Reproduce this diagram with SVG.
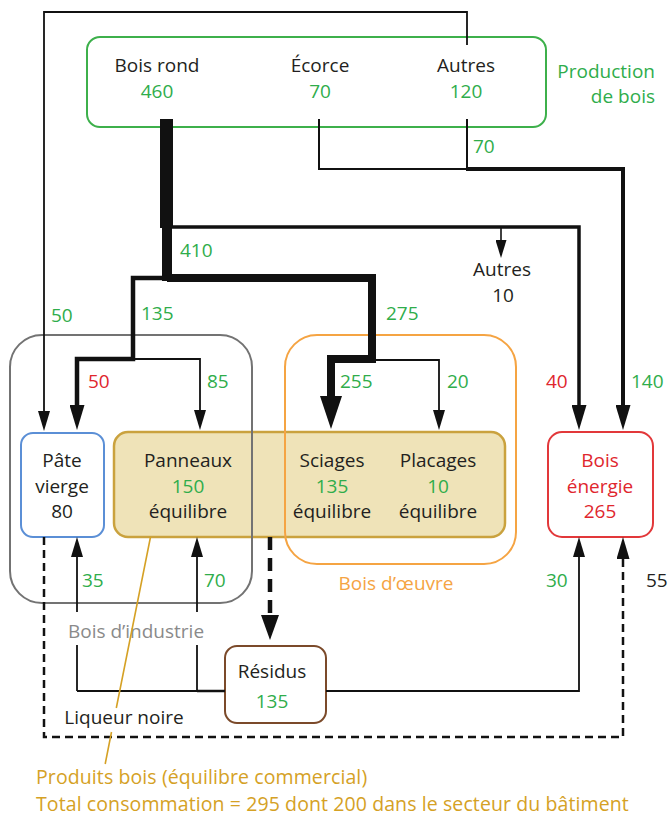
<svg xmlns="http://www.w3.org/2000/svg" width="669" height="817" viewBox="0 0 669 817">
<style>
text{font-family:"Open Sans","Liberation Sans",sans-serif;font-size:19px;fill:#231f20;text-anchor:middle}
.g{fill:#2fad4b}
.r{fill:#e0262d}
.k{fill:#231f20}
.st{text-anchor:start}
.en{text-anchor:end}
.gold{fill:#d5a125;font-size:19.5px;letter-spacing:0.1px}
.ln{fill:none;stroke:#111;stroke-linejoin:miter}
.thin{stroke-width:1.8}
.box{fill:#fff;stroke-width:2}
</style>
<defs>
<marker id="aThin" markerUnits="userSpaceOnUse" markerWidth="20" markerHeight="12" refX="0" refY="6" orient="auto"><path d="M0,0 L20,6 L0,12 z" fill="#111"/></marker>
<marker id="aSmall" markerUnits="userSpaceOnUse" markerWidth="18" markerHeight="11" refX="0" refY="5.5" orient="auto"><path d="M0,0 L18,5.5 L0,11 z" fill="#111"/></marker>
<marker id="aMid" markerUnits="userSpaceOnUse" markerWidth="25" markerHeight="15" refX="0" refY="7.5" orient="auto"><path d="M0,0 L25,7.5 L0,15 z" fill="#111"/></marker>
<marker id="aBig" markerUnits="userSpaceOnUse" markerWidth="33" markerHeight="22" refX="0" refY="11" orient="auto"><path d="M0,0 L33,11 L0,22 z" fill="#111"/></marker>
<marker id="aDash" markerUnits="userSpaceOnUse" markerWidth="25" markerHeight="18" refX="0" refY="9" orient="auto"><path d="M0,0 L25,9 L0,18 z" fill="#111"/></marker>
<marker id="aUp" markerUnits="userSpaceOnUse" markerWidth="22" markerHeight="13" refX="0" refY="6.5" orient="auto"><path d="M0,0 L22,6.5 L0,13 z" fill="#111"/></marker>
</defs>
<rect width="669" height="817" fill="#fff"/>

<g id="produits-bois">
<rect x="114" y="432" width="391" height="105" rx="14" fill="#efe3b8" stroke="#caa23e" stroke-width="2.5"/>
<text x="188" y="467">Panneaux</text>
<text x="188" y="493" class="g">150</text>
<text x="188" y="518">équilibre</text>
<text x="332" y="467">Sciages</text>
<text x="332" y="493" class="g">135</text>
<text x="332" y="518">équilibre</text>
<text x="438" y="467">Placages</text>
<text x="438" y="493" class="g">10</text>
<text x="438" y="518">équilibre</text>
<text x="36" y="784" class="st gold">Produits bois (équilibre commercial)</text>
<text x="36" y="811" class="st gold">Total consommation = 295 dont 200 dans le secteur du bâtiment</text>
</g>

<g id="bois-industrie">
<rect x="10" y="335" width="242" height="268" rx="32" fill="none" stroke="#737373" stroke-width="2"/>
<text x="136" y="638" style="fill:#8a8a8a">Bois d’industrie</text>
</g>

<g id="bois-oeuvre">
<rect x="285" y="335" width="231" height="229" rx="32" fill="none" stroke="#f5a443" stroke-width="2"/>
<text x="396" y="590" style="fill:#f5a443">Bois d’œuvre</text>
</g>

<g id="production">
<rect x="87" y="37" width="459" height="90" rx="13" class="box" stroke="#3db04b"/>
<text x="157" y="72">Bois rond</text>
<text x="157" y="98" class="g">460</text>
<text x="320" y="72">Écorce</text>
<text x="320" y="98" class="g">70</text>
<text x="466" y="72">Autres</text>
<text x="466" y="98" class="g">120</text>
<text x="655" y="78" class="g en">Production</text>
<text x="655" y="103" class="g en">de bois</text>
</g>

<g id="pate-vierge">
<rect x="21" y="433" width="83" height="104" rx="12" class="box" stroke="#5b8fd6"/>
<text x="62" y="467">Pâte</text>
<text x="62" y="493">vierge</text>
<text x="62" y="518">80</text>
</g>

<g id="bois-energie">
<rect x="548" y="432" width="105" height="105" rx="14" class="box" stroke="#e2383a"/>
<text x="600" y="467" class="r">Bois</text>
<text x="600" y="493" class="r">énergie</text>
<text x="600" y="518" class="r">265</text>
</g>

<g id="residus">
<rect x="225" y="646" width="101" height="77" rx="12" class="box" stroke="#7b4a2a" stroke-width="2.5"/>
<text x="272" y="678">Résidus</text>
<text x="272" y="708" class="g">135</text>
</g>

<g id="autres-10">
<text x="502" y="276">Autres</text>
<text x="503" y="302">10</text>
</g>

<g id="liqueur-noire">
<text x="124" y="724">Liqueur noire</text>
</g>

<g id="connectors">
<path class="ln thin" d="M467,45 V12 H44 V411" marker-end="url(#aThin)"/>
<path class="ln" d="M166.5,119 V228" stroke-width="13"/>
<path class="ln" d="M167,226 V281" stroke-width="10"/>
<path class="ln" d="M172,227 H579 V405" stroke-width="3.5" marker-end="url(#aMid)"/>
<path class="ln" d="M501,227 V240" stroke-width="1.6" marker-end="url(#aSmall)"/>
<path class="ln" d="M319,119 V169 H467" stroke-width="2"/>
<path class="ln" d="M467,119 V169" stroke-width="2"/>
<path class="ln" d="M466,169 H623 V405" stroke-width="4" marker-end="url(#aMid)"/>
<path class="ln" d="M167,278 H372 V359 H331 V396" stroke-width="8" marker-end="url(#aBig)"/>
<path class="ln" d="M167,278 H133 V359 H77 V405" stroke-width="4.5" marker-end="url(#aMid)"/>
<path class="ln thin" d="M133,359 H200 V410" marker-end="url(#aThin)"/>
<path class="ln thin" d="M372,360 H439 V410" marker-end="url(#aThin)"/>
<path class="ln thin" d="M77,691 V645"/>
<path class="ln thin" d="M77,612 V557" marker-end="url(#aThin)"/>
<path class="ln thin" d="M197,691 V645"/>
<path class="ln thin" d="M197,612 V557" marker-end="url(#aThin)"/>
<path class="ln thin" d="M77,691 H197"/>
<path class="ln" d="M197,691 H225" stroke-width="2.5"/>
<path class="ln thin" d="M326,691 H579 V557" marker-end="url(#aThin)"/>
<path class="ln" d="M44,537 V737 H623 V559" stroke-width="2.5" stroke-dasharray="8 5" marker-end="url(#aUp)"/>
<path class="ln" d="M270,537 V615" stroke-width="4.5" stroke-dasharray="13 8" marker-end="url(#aDash)"/>
<path d="M150.5,537 L116.3,708 M111.5,732 L105.2,764" fill="none" stroke="#d5a125" stroke-width="1.6"/>
<text x="473" y="153" class="g st">70</text>
<text x="180" y="257" class="g st">410</text>
<text x="141" y="320" class="g st">135</text>
<text x="386" y="320" class="g st">275</text>
<text x="51" y="322" class="g st">50</text>
<text x="88" y="388" class="r st">50</text>
<text x="207" y="388" class="g st">85</text>
<text x="340" y="388" class="g st">255</text>
<text x="447" y="388" class="g st">20</text>
<text x="546" y="388" class="r st">40</text>
<text x="631" y="388" class="g st">140</text>
<text x="82" y="587" class="g st">35</text>
<text x="204" y="587" class="g st">70</text>
<text x="546" y="587" class="g st">30</text>
<text x="646" y="587" class="k st">55</text>
</g>
</svg>
